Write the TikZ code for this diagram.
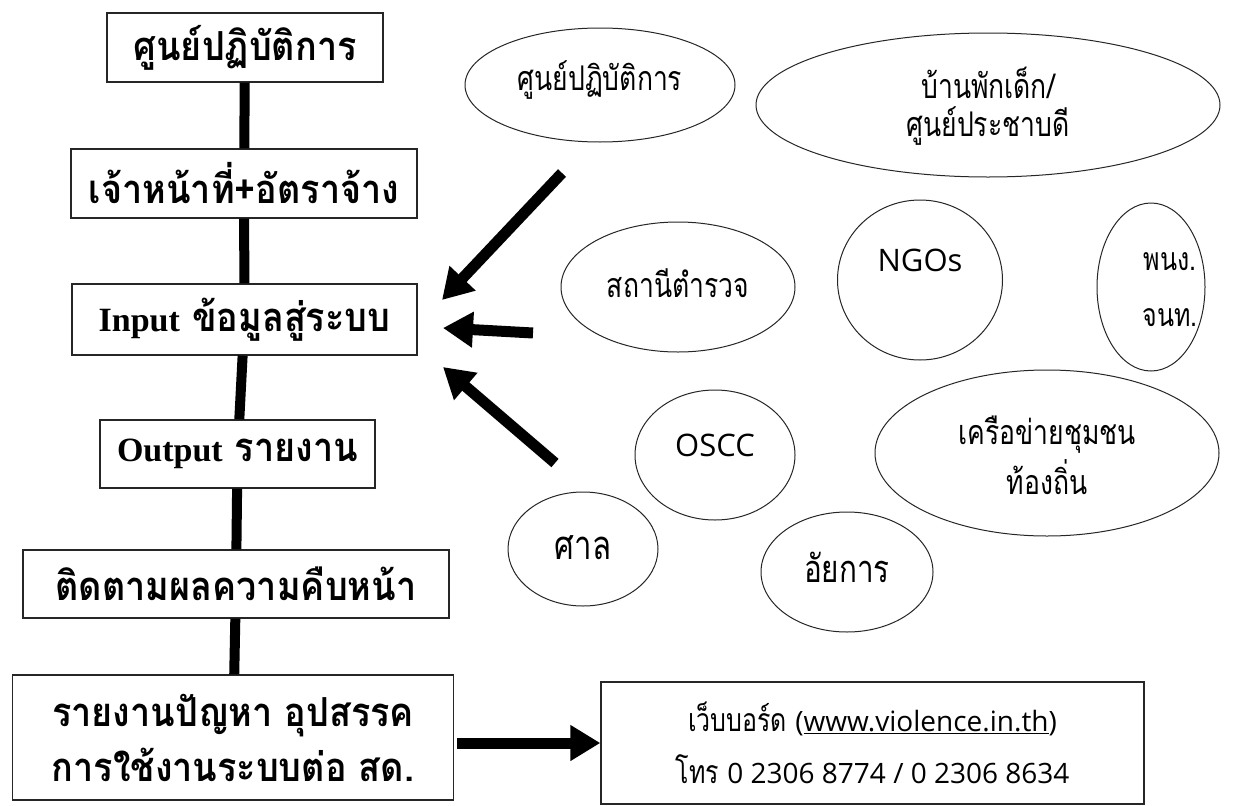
\documentclass[tikz,border=0pt]{standalone}
\usepackage{fontspec}
\newfontfamily\thai[Script=Thai,FakeStretch=0.9]{Loma}
\newfontfamily\thain[Script=Thai,FakeStretch=0.78]{Loma}
\newfontfamily\lat{Open Sans}
\newfontfamily\serifb{Liberation Serif}
\usetikzlibrary{arrows.meta,shapes.geometric}
\newcommand{\latin}[1]{{\serifb\bfseries\fontsize{34}{40}\selectfont #1}}
\tikzset{
  flowbox/.style={draw=black!85, line width=1.3pt, rectangle, inner sep=0pt,
    font=\thai\bfseries\fontsize{40}{55}\selectfont, align=center},
  bubble/.style={draw=black!85, line width=1pt, ellipse, inner sep=0pt},
  btext/.style={font=\thain\fontsize{34}{38}\selectfont, align=center, inner sep=0pt},
  link/.style={line width=10pt, black},
  bigarrow/.style={line width=11pt, black, -{Triangle[width=34pt,length=30pt]}},
}
\begin{document}
\begin{tikzpicture}[x=1pt,y=-1pt]
\useasboundingbox[fill=white] (0,0) rectangle (1248,806);

% left column
\node[flowbox, minimum width=276pt, minimum height=69pt] (b1) at (245,47.5) {ศูนย์ปฏิบัติการ};
\node[flowbox, minimum width=346pt, minimum height=69pt] (b2) at (244,183.5) {เจ้าหน้าที่+อัตราจ้าง};
\node[flowbox, minimum width=345pt, minimum height=71pt] (b3) at (244.5,319.5) {\latin{Input} ข้อมูลสู่ระบบ};
\node[flowbox, minimum width=275pt, minimum height=68pt] (b4) at (237.5,454) {\latin{Output} รายงาน};
\node[flowbox, minimum width=426pt, minimum height=68pt] (b5) at (236,584) {ติดตามผลความคืบหน้า};
\node[flowbox, minimum width=441pt, minimum height=125pt] (b6) at (233,737.5) {รายงานปัญหา อุปสรรค\\การใช้งานระบบต่อ สด.};

\draw[link] (b1) -- (b2);
\draw[link] (b2) -- (b3);
\draw[link] (b3) -- (b4);
\draw[link] (b4) -- (b5);
\draw[link] (b5) -- (b6);

% web box
\node[draw=black!85, line width=1.3pt, rectangle, minimum width=543pt, minimum height=122pt,
  font=\thain\fontsize{32}{52}\selectfont, align=center, inner sep=0pt] (web) at (872.5,743)
  {เว็บบอร์ด {\lat\fontsize{28}{52}\selectfont(\underline{www.violence.in.th})}\\โทร {\lat\fontsize{28}{52}\selectfont 0 2306 8774 / 0 2306 8634}};
\draw[bigarrow] (b6.east |- web.west) ++(3,0) coordinate (wa) (wa) -- (web.west);

% ellipses
\node[bubble, minimum width=270pt, minimum height=114pt] (e1) at (600,85) {};
\node[btext] (t1) at (600,80) {ศูนย์ปฏิบัติการ};
\node[bubble, minimum width=464pt, minimum height=144pt] (e2) at (988,105) {};
\node[btext] (t2) at (988,106) {บ้านพักเด็ก/\\ศูนย์ประชาบดี};
\node[bubble, minimum width=234pt, minimum height=130pt] (e3) at (678,287) {};
\node[btext] (t3) at (678,283) {สถานีตำรวจ};
\node[bubble, minimum width=165pt, minimum height=160pt] (e4) at (920,280) {};
\node[btext, font=\lat\fontsize{31}{38}\selectfont] (t4) at (920,260) {NGOs};
\node[bubble, minimum width=108pt, minimum height=168pt] (e5) at (1151,287) {};
\node[btext, font=\thain\fontsize{32}{56}\selectfont] (t5) at (1170,290) {พนง.\\จนท.};
\node[bubble, minimum width=160pt, minimum height=130pt] (e6) at (715,455) {};
\node[btext, font=\lat\fontsize{31}{38}\selectfont] (t6) at (715,445) {OSCC};
\node[bubble, minimum width=344pt, minimum height=166pt] (e7) at (1047,453) {};
\node[btext, font=\thain\fontsize{34}{50}\selectfont] (t7) at (1047,455) {เครือข่ายชุมชน\\ท้องถิ่น};
\node[bubble, minimum width=150pt, minimum height=114pt] (e8) at (583,549) {};
\node[btext, font=\thain\fontsize{40}{40}\selectfont] (t8) at (583,548) {ศาล};
\node[bubble, minimum width=172pt, minimum height=120pt] (e9) at (847,572) {};
\node[btext, font=\thain\fontsize{38}{40}\selectfont] (t9) at (847,567) {อัยการ};

% incoming arrows
\coordinate (a1s) at (562,173);
\coordinate (a1e) at (442,300);
\coordinate (a2s) at (533,333);
\coordinate (a2e) at (443,328);
\coordinate (a3s) at (555,463);
\coordinate (a3e) at (443,367);
\draw[bigarrow] (a1s) -- (a1e);
\draw[bigarrow] (a2s) -- (a2e);
\draw[bigarrow] (a3s) -- (a3e);
\end{tikzpicture}
\end{document}
